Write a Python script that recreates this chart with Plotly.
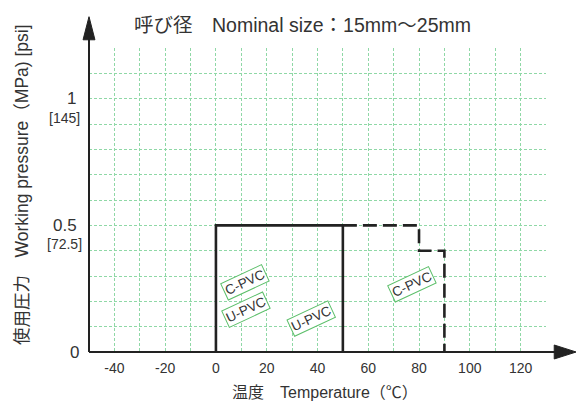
import plotly.graph_objects as go

# ---- data ----
upvc_temp = [0, 0, 50, 50]
upvc_press = [0, 0.5, 0.5, 0]
cpvc_temp = [50, 80, 80, 90, 90]
cpvc_press = [0.5, 0.5, 0.4, 0.4, 0]

x_tick_vals = [-50, -40, -30, -20, -10, 0, 10, 20, 30, 40, 50, 60, 70, 80, 90, 100, 110, 120, 130]
x_tick_text = ["", "-40", "", "-20", "", "0", "", "20", "", "40", "", "60", "", "80", "", "100", "", "120", ""]
y_tick_vals = [0, 0.5, 1.0]
y_tick_main = ["0", "0.5", "1"]
y_tick_psi = ["", "[72.5]", "[145]"]

label_texts = ["C-PVC", "U-PVC", "U-PVC", "C-PVC"]
label_x = [11.3, 12.0, 37.6, 77.1]
label_y = [0.274, 0.167, 0.134, 0.266]

title_text = "呼び径　Nominal size：15mm～25mm"
x_title = "温度　Temperature（℃）"
y_title = "使用圧力　Working pressure（MPa) [psi]"

FONT = "Liberation Sans, Noto Sans CJK JP, sans-serif"
TXT = "#333333"
GREEN = "#5cbf6a"

PLOT_L, PLOT_W = 89, 457

fig = go.Figure()
fig.add_trace(go.Scatter(x=upvc_temp, y=upvc_press, mode="lines",
                         line=dict(color="#222222", width=2.6), hoverinfo="skip",
                         showlegend=False, cliponaxis=False))
fig.add_trace(go.Scatter(x=cpvc_temp, y=cpvc_press, mode="lines",
                         line=dict(color="#222222", width=2.6, dash="14px,6px"), hoverinfo="skip",
                         showlegend=False, cliponaxis=False))

annotations = []
for t, lx, ly in zip(label_texts, label_x, label_y):
    annotations.append(dict(x=lx, y=ly, xref="x", yref="y", text=t, showarrow=False,
                            textangle=-25, font=dict(family=FONT, size=13.5, color=TXT),
                            bordercolor=GREEN, borderwidth=1, borderpad=1, bgcolor="white"))

for v, m, p in zip(y_tick_vals, y_tick_main, y_tick_psi):
    annotations.append(dict(x=0, xref="paper", xshift=-18 if v == 1.0 else (-24 if v == 0.5 else -15),
                            y=v, yref="y",
                            text=m, showarrow=False, xanchor="center", yanchor="middle",
                            font=dict(family=FONT, size=17, color=TXT)))
    if p:
        annotations.append(dict(x=0, xref="paper", xshift=-25, y=v, yref="y", yshift=-19,
                                text=p, showarrow=False, xanchor="center", yanchor="middle",
                                font=dict(family=FONT, size=14, color=TXT)))

annotations.append(dict(x=(302 - PLOT_L) / PLOT_W, y=1.0, xref="paper", yref="paper", yshift=23,
                        text=title_text, showarrow=False, xanchor="center", yanchor="middle",
                        font=dict(family=FONT, size=19.5, color=TXT)))
annotations.append(dict(x=(325 - PLOT_L) / PLOT_W, y=0, xref="paper", yref="paper", yshift=-40,
                        text=x_title, showarrow=False, xanchor="center", yanchor="middle",
                        font=dict(family=FONT, size=16, color=TXT)))
annotations.append(dict(x=0, y=0.5, xref="paper", yref="paper", xshift=-67, yshift=15,
                        text=y_title, textangle=-90, showarrow=False,
                        xanchor="center", yanchor="middle",
                        font=dict(family=FONT, size=17.5, color=TXT)))

shapes = [
    # x axis arrow
    dict(type="line", xref="paper", yref="paper", x0=0, x1=1.03, y0=0, y1=0,
         line=dict(color="#222222", width=2)),
    dict(type="path", xref="paper", yref="paper",
         path="M 1.018 -0.023 L 1.066 0 L 1.018 0.023 Z", fillcolor="#222222",
         line=dict(color="#222222", width=1)),
    # y axis arrow
    dict(type="line", xref="paper", yref="paper", x0=0, x1=0, y0=0, y1=1.06,
         line=dict(color="#222222", width=2)),
    dict(type="path", xref="paper", yref="paper",
         path="M -0.013 1.027 L 0 1.103 L 0.013 1.027 Z", fillcolor="#222222",
         line=dict(color="#222222", width=1)),
]

fig.update_layout(
    width=576, height=401,
    margin=dict(l=PLOT_L, r=576 - PLOT_L - PLOT_W, t=48, b=49),
    paper_bgcolor="white", plot_bgcolor="white",
    annotations=annotations, shapes=shapes,
    xaxis=dict(range=[-50, 130.02], tickvals=x_tick_vals, ticktext=x_tick_text,
               showgrid=True, gridcolor="#8fd8a6", griddash="3px,2px", gridwidth=1,
               zeroline=False, showline=False, ticks="", ticklen=0, ticklabelstandoff=6,
               tickfont=dict(family=FONT, size=14, color=TXT), fixedrange=True),
    yaxis=dict(range=[0, 1.2002], dtick=0.1, tick0=0, showticklabels=False,
               showgrid=True, gridcolor="#8fd8a6", griddash="3px,2px", gridwidth=1,
               zeroline=False, showline=False, ticks="", fixedrange=True),
    font=dict(family=FONT, color=TXT),
)

fig.write_html("out.html", config={"displayModeBar": False, "staticPlot": True})

# remove default page margin so the figure sits at the window's top-left corner
with open("out.html", "r", encoding="utf-8") as f:
    html = f.read()
html = html.replace("<head>", "<head><style>html,body{margin:0;padding:0;}</style>", 1)
with open("out.html", "w", encoding="utf-8") as f:
    f.write(html)
